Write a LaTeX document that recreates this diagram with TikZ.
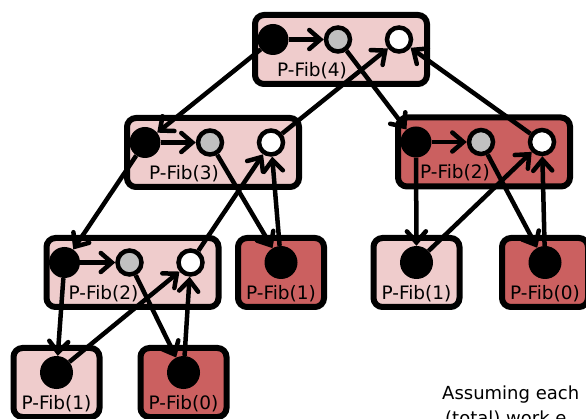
\documentclass[tikz,border=0pt]{standalone}
\usepackage{fontspec}
\setmainfont{DejaVu Sans}
\usetikzlibrary{arrows.meta, positioning, calc}

\definecolor{fiblight}{RGB}{239,204,204}
\definecolor{fibdark}{RGB}{203,96,96}
\definecolor{strandgrey}{RGB}{192,192,192}

% procedure instance with three strands (#1 name, #2 position, #3 fill, #4 label)
\newcommand{\bigproc}[4]{
    \node[procbox, minimum width=172pt, fill=#3] (#1) at (#2) {};
    \node[proclabel] (#1lbl) at ([xshift=-29pt, yshift=-21pt]#1) {#4};
    \node[firststrand] (#1b) at ([xshift=-68pt, yshift=10pt]#1) {};
    \node[midstrand] (#1g) at ([xshift=-3pt, yshift=10pt]#1) {};
    \node[laststrand] (#1w) at ([xshift=58pt, yshift=10pt]#1) {};
}
% leaf instance with one strand
\newcommand{\leafproc}[4]{
    \node[procbox, minimum width=86pt, fill=#3] (#1) at (#2) {};
    \node[proclabel] (#1lbl) at ([yshift=-21pt]#1) {#4};
    \node[leafstrand] (#1b) at ([yshift=10pt]#1) {};
}

\begin{document}
\begin{tikzpicture}[x=1pt, y=-1pt,
    procbox/.style={draw, line width=6pt, rounded corners=9pt, minimum height=69pt, inner sep=0pt},
    proclabel/.style={font=\fontsize{18.5}{21}\selectfont, inner sep=0pt},
    firststrand/.style={circle, fill=black, minimum size=31pt, inner sep=0pt},
    midstrand/.style={circle, draw, line width=4.5pt, fill=strandgrey, minimum size=24pt, inner sep=0pt},
    laststrand/.style={circle, draw, line width=4.5pt, fill=white, minimum size=24pt, inner sep=0pt},
    leafstrand/.style={circle, fill=black, minimum size=33pt, inner sep=0pt},
    dep/.style={-{Straight Barb[length=11pt, width=19pt, line cap=round]}, line width=4.5pt},
    notetext/.style={font=\fontsize{18}{22}\selectfont, inner sep=0pt}
]

% Page frame
\useasboundingbox (0,0) rectangle (586,419);
\clip (0,0) rectangle (586,419);

% Top level
\bigproc{fibA}{341,49.5}{fiblight}{P-Fib(4)}

% Second level
\bigproc{fibB}{213,152.5}{fiblight}{P-Fib(3)}
\bigproc{fibC}{484,152}{fibdark}{P-Fib(2)}

% Third level
\bigproc{fibD}{132.5,272.5}{fiblight}{P-Fib(2)}
\leafproc{fibE}{281,272.5}{fibdark}{P-Fib(1)}
\leafproc{fibF}{416.5,272.5}{fiblight}{P-Fib(1)}
\leafproc{fibG}{545,272.5}{fibdark}{P-Fib(0)}

% Bottom level
\leafproc{fibH}{56.5,382.5}{fiblight}{P-Fib(1)}
\leafproc{fibI}{183.5,382.5}{fibdark}{P-Fib(0)}

% Continuation edges
\foreach \a in {fibA,fibB,fibC,fibD} {
    \draw[dep] (\a b) -- (\a g);
}

% Spawn and call edges
\foreach \a/\b in {fibAb/fibBb, fibAg/fibCb, fibBb/fibDb, fibBg/fibEb,
                   fibCb/fibFb, fibCg/fibGb, fibDb/fibHb, fibDg/fibIb} {
    \draw[dep] (\a) -- (\b);
}

% Return edges
\foreach \a/\b in {fibBw/fibAw, fibEb/fibBw, fibDw/fibBw, fibFb/fibCw,
                   fibGb/fibCw, fibHb/fibDw, fibIb/fibDw} {
    \draw[dep] (\a) -- (\b);
}
\draw[dep] (fibCw) -- ([xshift=24pt, yshift=-14pt]fibAw);

% Note text
\node[notetext, anchor=base west] (note1) at (442,399) {Assuming each};
\node[notetext, anchor=base west] (note2) at (445,424) {(total) work e};

\end{tikzpicture}
\end{document}
